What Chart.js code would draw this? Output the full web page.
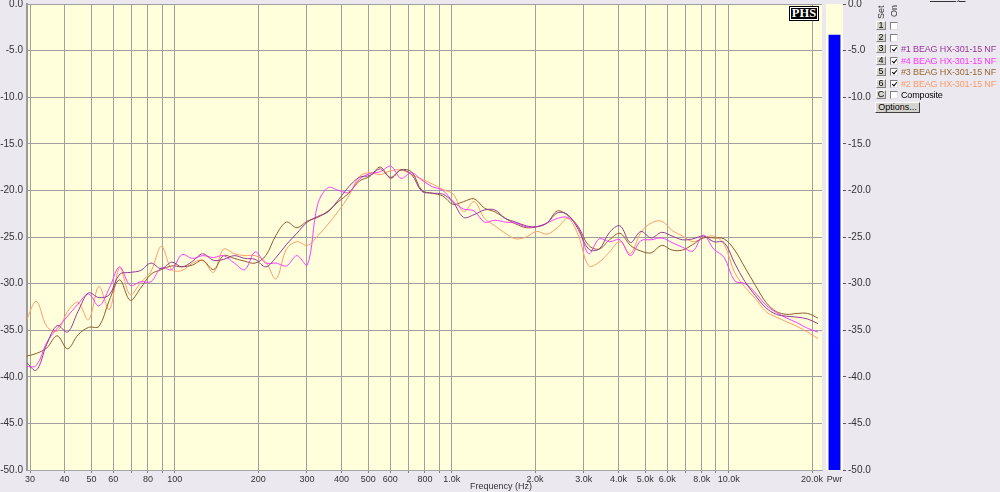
<!DOCTYPE html>
<html>
<head>
<meta charset="utf-8">
<script src="https://cdn.jsdelivr.net/npm/chart.js@4.4.0/dist/chart.umd.min.js"></script>
<style>
  html, body { margin: 0; padding: 0; background: #ebe9ef; }
  body { width: 1000px; height: 492px; position: relative; overflow: hidden; font-family: "Liberation Sans", Arial, sans-serif; }
  canvas { position: absolute; top: 0; }
  #freq { left: 0; }
  #pwr { left: 823px; }
  .abs { position: absolute; white-space: nowrap; }
  #xtitle { left: 470px; top: 481px; font-size: 9px; color: #333; }
  #phs { left: 789px; top: 6px; width: 30px; height: 15px; background: #000; color: #fff; font: bold 12.5px "Liberation Serif", serif; text-align: center; line-height: 15px; box-shadow: inset 0 0 0 1px #000, inset 0 0 0 2px #fff; }
  #hdr { left: 930px; top: -8px; font-size: 9px; color: #333; text-decoration: underline; }
  .vert { font-size: 9px; color: #333; transform: rotate(-90deg); transform-origin: left top; }
  .btn { width: 10px; height: 9px; background: #d6d3ce; font-size: 9px; line-height: 7px; text-align: center; color: #000; box-sizing: border-box; border: 1px solid; border-color: #fff #808080 #808080 #fff; }
  .cb { width: 8px; height: 8px; background: #fff; box-sizing: border-box; border: 1px solid; border-color: #808080 #e0e0e0 #e0e0e0 #808080; }
  .cb.on::after { content: ''; position: absolute; left: 2px; top: 0px; width: 2px; height: 4px; border: solid #000; border-width: 0 1.5px 1.5px 0; transform: rotate(40deg); }
  .lbl { font-size: 9px; line-height: 9px; letter-spacing: -0.15px; }
  #opts { left: 875px; top: 102px; width: 45px; height: 11px; background: #d6d3ce; font-size: 9px; line-height: 9px; text-align: center; box-sizing: border-box; border: 1px solid; border-color: #fff #404040 #404040 #fff; }
</style>
</head>
<body>
<canvas id="freq" width="824" height="492"></canvas>
<canvas id="pwr" width="60" height="492"></canvas>
<div id="xtitle" class="abs">Frequency (Hz)</div>
<div id="phs" class="abs">PHS</div>
<div id="hdr" class="abs">Overlays</div>
<div class="abs vert" style="left:876px; top:19px;">Set</div>
<div class="abs vert" style="left:889px; top:17px;">On</div>
<div id="opts" class="abs">Options...</div>
<script>
const freqHz = [29, 31.6, 34.5, 37.6, 41, 44.7, 48.8, 53.2, 58, 63.2, 69, 75.2, 82, 89.4, 97.5, 106, 116, 126, 138, 150,
  164, 179, 195, 213, 232, 253, 276, 301, 328, 358, 390, 425, 464, 506, 552, 602, 656, 716, 780, 851,
  928, 1012, 1104, 1204, 1313, 1432, 1561, 1703, 1857, 2025, 2208, 2408, 2626, 2864, 3123, 3406, 3714, 4051, 4417, 4817,
  5253, 5729, 6248, 6813, 7430, 8103, 8836, 9636, 10508, 11460, 12497, 13628, 14862, 16207, 17674, 19274, 21019];

// #1 (purple)
const set1Db = [-38.4, -39.3, -36.5, -34.5, -35.2, -33.0, -31.0, -31.5, -31.2, -29.0,
  -28.8, -28.6, -27.8, -28.4, -27.7, -28.2, -27.6, -26.8, -27.5, -27.4,
  -27.0, -27.3, -27.4, -28.2, -27.2, -25.8, -24.6, -23.4, -22.8, -22.3,
  -21.0, -19.6, -18.6, -18.4, -17.7, -18.6, -17.8, -18.3, -20.1, -20.3,
  -20.4, -21.3, -22.9, -22.6, -22.1, -22.1, -23.0, -23.4, -23.8, -23.9,
  -23.5, -22.4, -22.6, -24.2, -26.3, -26.3, -24.5, -23.8, -25.6, -24.4,
  -25.1, -24.5, -24.9, -25.3, -25.2, -24.9, -25.5, -25.6, -27.8, -29.8,
  -31.3, -32.6, -33.3, -33.5, -33.6, -33.8, -34.3];
// #4 (magenta)
const set4Db = [-38.9, -38.8, -36.3, -34.8, -33.5, -32.2, -31.1, -32.4, -30.5, -28.2,
  -30.2, -29.8, -29.8, -28.3, -28.5, -26.9, -27.3, -27.0, -27.2, -27.0,
  -27.8, -28.5, -26.6, -27.8, -27.8, -28.1, -27.0, -28.0, -21.5, -19.7,
  -20.0, -20.2, -18.8, -18.2, -18.0, -17.4, -18.7, -18.1, -18.9, -19.6,
  -20.0, -21.2, -22.0, -22.2, -23.4, -23.2, -23.4, -23.5, -23.9, -23.9,
  -23.5, -23.0, -22.9, -24.0, -26.8, -25.2, -25.5, -25.3, -27.0, -25.4,
  -25.3, -25.1, -25.6, -26.1, -26.5, -24.8, -26.3, -27.2, -29.7, -30.0,
  -31.0, -32.3, -33.1, -33.7, -34.2, -34.8, -35.2];
// #3 (brown)
const set3Db = [-37.8, -37.5, -36.9, -35.6, -37.0, -35.5, -34.7, -34.6, -31.8, -29.6,
  -31.8, -30.5, -29.0, -28.5, -28.1, -28.2, -28.0, -27.5, -28.5, -27.0,
  -27.3, -27.6, -27.8, -27.0, -24.8, -23.4, -24.0, -23.3, -22.9, -22.2,
  -21.2, -20.3, -19.0, -18.5, -17.5, -18.7, -17.8, -18.0, -20.0, -20.3,
  -20.6, -21.5, -21.2, -20.9, -21.9, -22.3, -23.0, -23.6, -24.0, -23.9,
  -23.5, -22.2, -22.7, -23.9, -25.9, -26.3, -25.3, -24.6, -25.9, -26.5,
  -26.7, -25.9, -26.4, -26.4, -25.8, -25.1, -25.1, -25.2, -26.4, -28.3,
  -30.2, -32.0, -33.0, -33.3, -33.2, -33.2, -33.7];
// #2 (orange)
const set2Db = [-34.1, -31.9, -34.6, -35.1, -33.0, -32.0, -33.9, -30.3, -32.8, -28.3,
  -31.2, -29.9, -28.7, -26.0, -28.5, -28.6, -27.8, -27.5, -28.8, -26.3,
  -26.8, -27.0, -27.0, -27.7, -29.5, -26.3, -25.5, -25.9, -24.9, -23.6,
  -22.2, -20.6, -18.5, -18.1, -18.3, -17.9, -17.8, -18.3, -18.8, -19.3,
  -19.9, -20.4, -22.3, -21.2, -23.0, -23.8, -24.6, -25.2, -25.0, -24.4,
  -24.7, -24.0, -23.0, -24.8, -28.1, -27.7, -26.6, -25.5, -26.8, -24.5,
  -23.5, -23.3, -24.3, -24.9, -25.5, -25.1, -24.9, -25.8, -28.8, -30.4,
  -31.6, -33.0, -33.6, -34.1, -34.6, -35.2, -35.9];

const xTickValues = [30, 40, 50, 60, 70, 80, 90, 100, 200, 300, 400, 500, 600, 700, 800, 900,
  1000, 2000, 3000, 4000, 5000, 6000, 7000, 8000, 9000, 10000, 20000];
const xTickLabels = ['30', '40', '50', '60', '', '80', '', '100', '200', '300', '400', '500', '600', '', '800', '',
  '1.0k', '2.0k', '3.0k', '4.0k', '5.0k', '6.0k', '', '8.0k', '', '10.0k', '20.0k'];

const pwrLabels = ['Pwr'];
const pwrLevel = [-3.3];

const overlaySlots = ['1', '2', '3', '4', '5', '6', 'C'];
const overlayNames = ['', '', '#1 BEAG HX-301-15 NF', '#4 BEAG HX-301-15 NF', '#3 BEAG HX-301-15 NF', '#2 BEAG HX-301-15 NF', 'Composite'];
const overlayOn = [false, false, true, true, true, true, false];
const overlayColors = ['#000', '#000', '#993399', '#ff33ff', '#996633', '#ff9966', '#000'];

Chart.defaults.font.family = '"Liberation Sans", Arial, sans-serif';

const plotBg = {
  id: 'plotBg',
  beforeDraw(chart, args, opts) {
    const { ctx, chartArea: a } = chart;
    ctx.save();
    ctx.fillStyle = opts.color;
    ctx.fillRect(a.left, a.top, a.right - a.left, a.bottom - a.top);
    ctx.restore();
  }
};

const toPoints = arr => freqHz.map((f, i) => ({ x: f, y: arr[i] }));
const line = (label, arr, color) => ({
  label, data: toPoints(arr), borderColor: color, borderWidth: 1,
  pointRadius: 0, tension: 0.35, fill: false
});

new Chart(document.getElementById('freq'), {
  type: 'line',
  data: {
    datasets: [
      line('#1', set1Db, '#973a97'),
      line('#4', set4Db, '#ff3cff'),
      line('#3', set3Db, '#8e5c2e'),
      line('#2', set2Db, '#ff9c68')
    ]
  },
  options: {
    responsive: false,
    animation: false,
    layout: { padding: { top: 4, right: 2, bottom: 0, left: 0 } },
    plugins: { legend: { display: false }, tooltip: { enabled: false }, plotBg: { color: '#ffffdc' } },
    scales: {
      x: {
        type: 'logarithmic',
        min: 29.26,
        max: 21730,
        afterBuildTicks: s => { s.ticks = xTickValues.map(v => ({ value: v })); },
        afterFit: s => { s.height = 22; s.paddingLeft = 0; s.paddingRight = 0; },
        ticks: {
          autoSkip: false, maxRotation: 0, padding: 1, color: '#333',
          font: { size: 9 },
          callback: (v, i) => xTickLabels[i]
        },
        grid: { color: '#a0a0a0', tickLength: 3, tickColor: '#808080' },
        border: { color: '#a8a8a8', width: 1 }
      },
      y: {
        min: -50,
        max: 0,
        afterFit: s => { s.width = 27; s.paddingTop = 0; s.paddingBottom = 0; },
        ticks: { stepSize: 5, padding: 4, color: '#333', font: { size: 10 }, callback: v => v.toFixed(1) },
        grid: { color: '#a0a0a0', drawTicks: false },
        border: { color: '#9a9a9a', width: 2 }
      }
    }
  },
  plugins: [plotBg]
});

new Chart(document.getElementById('pwr'), {
  type: 'bar',
  data: {
    labels: pwrLabels,
    datasets: [{ data: pwrLevel.map(v => [-50, v]), backgroundColor: '#0000ff', barPercentage: 0.7, categoryPercentage: 1 }]
  },
  options: {
    responsive: false,
    animation: false,
    layout: { padding: { top: 4, right: 0, bottom: 0, left: 3 } },
    plugins: { legend: { display: false }, tooltip: { enabled: false }, plotBg: { color: '#ffffdc' } },
    scales: {
      x: {
        afterFit: s => { s.height = 22; s.paddingLeft = 0; s.paddingRight = 0; },
        ticks: { padding: 4, color: '#333', font: { size: 9 } },
        grid: { display: false, drawTicks: false },
        border: { display: false }
      },
      y: {
        position: 'right',
        min: -50,
        max: 0,
        afterFit: s => { s.width = 40; s.paddingTop = 0; s.paddingBottom = 0; },
        ticks: { stepSize: 5, padding: 2, color: '#333', font: { size: 10 }, callback: v => v.toFixed(1) },
        grid: { drawOnChartArea: false, tickLength: 3, tickColor: '#555' },
        border: { display: false }
      }
    }
  },
  plugins: [plotBg]
});

// overlay list on the right
overlaySlots.forEach((slot, i) => {
  const top = 21 + Math.round(i * 11.5);
  const b = document.createElement('div');
  b.className = 'abs btn';
  b.style.left = '876px';
  b.style.top = top + 'px';
  b.textContent = slot;
  document.body.appendChild(b);
  const c = document.createElement('div');
  c.className = 'abs cb' + (overlayOn[i] ? ' on' : '');
  c.style.left = '890px';
  c.style.top = (top + 1) + 'px';
  document.body.appendChild(c);
  if (overlayNames[i]) {
    const t = document.createElement('div');
    t.className = 'abs lbl';
    t.style.left = '901px';
    t.style.top = (top + 1) + 'px';
    t.style.color = overlayColors[i];
    t.textContent = overlayNames[i];
    document.body.appendChild(t);
  }
});
</script>
</body>
</html>
